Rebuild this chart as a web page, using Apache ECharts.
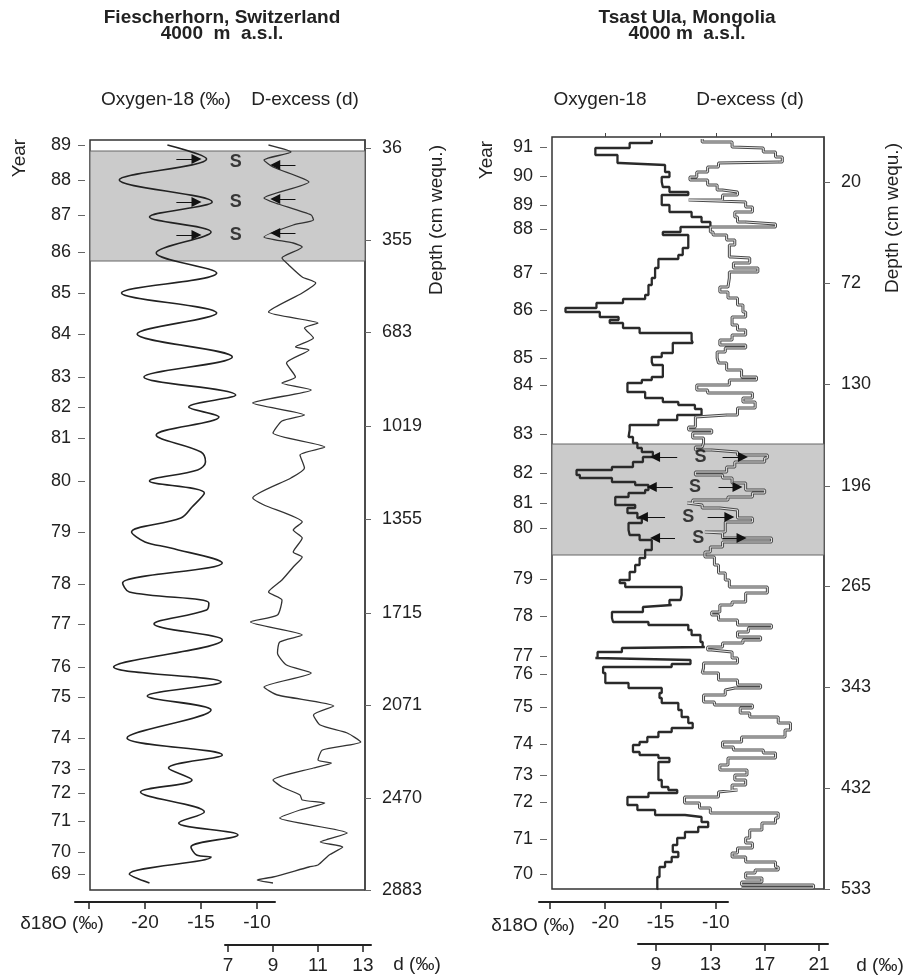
<!DOCTYPE html>
<html>
<head>
<meta charset="utf-8">
<script src="https://cdn.jsdelivr.net/npm/echarts@6/dist/echarts.min.js"></script>
<style>
  html, body { margin: 0; padding: 0; background: #fff; }
  #chart { width: 907px; height: 979px; }
</style>
</head>
<body>
<div id="chart"></div>
<script>
// vertical unit: relative position down the core (0 = top of the plot box)

// --- Fiescherhorn (left) ---
const leftYearLabels = ['89','88','87','86','85','84','83','82','81','80','79','78','77','76','75','74','73','72','71','70','69'];
const leftYearPos = [5,40,75,112,153,194,237,267,298,341,392,444,484,527,557,598,629,653,681,712,734];
const leftDepthLabels = ['36','355','683','1019','1355','1715','2071','2470','2883'];
const leftDepthPos = [8,100,192,286,379,473,565,658,750];
const leftSeason = [11, 121];

// [delta18O, position]
const leftO18 = [[-18.0,5],[-14.5,19],[-22.3,40],[-14.0,62],[-19.6,77],[-14.1,92],[-19.0,113],[-13.6,133],
  [-22.1,153],[-13.6,173],[-20.7,194],[-12.2,217],[-20.1,237],[-11.9,255],[-16.1,267],[-13.4,277],
  [-19.0,295],[-15.0,312],[-14.6,322],[-15.3,330],[-19.6,341],[-14.7,353],[-15.8,367],[-16.8,378],
  [-21.2,392],[-20.0,402],[-17.7,408],[-13.1,423],[-22.0,443],[-21.4,452],[-14.3,463],[-14.5,470],
  [-19.2,484],[-13.1,500],[-22.8,527],[-13.2,542],[-19.8,556],[-14.1,570],[-21.6,598],[-13.1,615],
  [-17.9,628],[-15.8,640],[-20.4,652],[-14.7,672],[-17.0,683],[-11.7,695],[-15.9,707],[-15.4,715],
  [-14.1,717],[-21.4,734],[-19.6,743]];

// [d-excess, position]
const leftDex = [[8.8,5],[9.8,12],[8.6,20],[9.0,27],[10.6,42],[8.6,58],[9.1,63],[10.7,75],[10.8,80],[9.9,85],
  [8.6,97],[9.9,103],[10.3,107],[10.1,110],[9.4,118],[9.7,125],[10.3,137],[10.9,143],[10.3,153],[8.8,172],
  [11.0,183],[10.4,188],[10.8,198],[10.0,207],[10.6,210],[9.6,223],[10.0,237],[9.4,243],[10.7,250],[8.1,263],
  [10.4,275],[9.4,281],[9.0,293],[11.3,307],[10.2,315],[10.4,328],[9.8,338],[8.1,358],[8.6,365],[10.3,382],
  [9.9,390],[10.3,398],[9.9,412],[10.3,417],[9.9,427],[9.4,440],[8.8,452],[9.4,460],[9.2,475],[8.0,482],
  [10.3,495],[9.3,502],[9.2,513],[9.6,525],[10.7,533],[8.6,547],[9.2,555],[11.7,566],[10.8,575],[11.1,585],
  [12.3,593],[12.9,602],[11.2,610],[11.0,620],[11.6,623],[10.8,628],[9.0,640],[9.4,647],[10.2,655],[10.3,660],
  [11.3,663],[10.2,670],[9.3,678],[12.3,693],[11.1,702],[12.1,707],[11.5,715],[11.0,725],[10.6,727],[9.0,737],
  [8.3,740],[9.0,743]];

const leftArrowPosO18 = [19, 62, 95];
const leftArrowPosDex = [25, 59, 93];
const leftSPos = [22, 62, 95];

// --- Tsast Ula (right) ---
const rightYearLabels = ['91','90','89','88','87','86','85','84','83','82','81','80','79','78','77','76','75','74','73','72','71','70'];
const rightYearPos = [10,39,68,92,136,173,221,248,297,336,366,391,442,479,519,537,570,607,638,665,702,737];
const rightDepthLabels = ['20','72','130','196','265','343','432','533'];
const rightDepthPos = [45,146,247,349,449,550,651,752];
const rightSeason = [307, 418];

const rightO18 = [[-15.8,3],[-17.8,6],[-20.9,11],[-18.9,18],[-18.7,26],[-14.6,28],[-14.2,35],[-14.9,40],[-14.8,45],
  [-14.2,50],[-12.5,55],[-14.9,58],[-14.2,68],[-12.2,75],[-11.3,80],[-10.5,85],[-13.2,90],[-14.8,95],[-12.5,98],
  [-13.0,111],[-13.4,118],[-15.2,122],[-15.5,131],[-15.8,141],[-16.1,148],[-16.4,158],[-18.4,162],[-20.8,166],
  [-23.6,171],[-20.5,175],[-18.8,180],[-19.6,183],[-18.4,186],[-16.9,191],[-12.2,196],[-12.1,203],[-13.9,206],
  [-14.9,216],[-15.8,220],[-15.7,225],[-14.8,228],[-15.8,240],[-16.7,243],[-18.0,246],[-16.4,255],[-14.8,261],
  [-13.4,265],[-11.9,268],[-11.3,272],[-13.5,278],[-15.2,283],[-17.8,288],[-17.9,293],[-17.5,300],[-17.1,306],
  [-16.7,311],[-15.7,315],[-16.6,320],[-17.5,325],[-19.4,330],[-22.6,333],[-22.3,338],[-19.4,341],[-17.3,345],
  [-16.1,348],[-16.4,353],[-17.9,356],[-19.1,360],[-17.3,368],[-18.0,371],[-17.1,376],[-16.7,381],[-17.9,386],
  [-17.8,393],[-16.9,398],[-15.8,403],[-16.4,413],[-16.9,421],[-17.3,428],[-17.8,435],[-18.7,443],[-18.2,446],
  [-13.1,450],[-13.2,458],[-14.2,463],[-14.0,468],[-16.6,470],[-19.4,475],[-19.3,481],[-16.1,485],[-12.5,488],
  [-12.2,493],[-11.4,498],[-11.2,505],[-11.0,510],[-18.5,511],[-20.7,515],[-20.9,521],[-12.3,523],[-14.0,527],
  [-20.2,530],[-20.0,536],[-17.9,546],[-14.9,551],[-15.1,556],[-14.9,561],[-13.4,566],[-13.1,573],[-12.5,580],
  [-12.1,586],[-14.0,591],[-15.2,595],[-16.2,600],[-16.9,605],[-17.5,608],[-16.9,615],[-15.2,618],[-14.2,621],
  [-15.2,625],[-14.9,643],[-14.3,650],[-13.5,653],[-16.1,656],[-18.0,660],[-17.1,668],[-15.5,673],[-12.8,678],
  [-11.3,680],[-10.7,685],[-11.6,690],[-12.8,695],[-13.5,701],[-13.9,708],[-13.4,715],[-14.0,720],[-14.6,725],
  [-15.1,730],[-15.3,740],[-15.2,752]];

const rightDex = [[12.4,2],[14.6,5],[14.7,10],[16.9,11],[17.8,15],[18.3,20],[18.0,25],[13.6,26],[12.8,30],[12.0,35],
  [11.5,40],[12.8,43],[13.5,48],[13.9,53],[15.0,55],[13.9,58],[11.4,63],[15.6,65],[16.1,70],[14.8,75],[15.0,80],
  [15.6,85],[17.8,87],[13.0,90],[13.2,95],[14.2,98],[14.8,103],[14.4,108],[14.6,120],[15.9,121],[14.7,126],
  [16.5,131],[14.4,135],[14.3,141],[13.7,150],[14.3,155],[15.0,161],[15.4,168],[15.6,175],[14.6,180],[15.0,188],
  [15.6,193],[14.6,198],[13.7,203],[15.6,208],[14.1,211],[13.5,215],[13.6,221],[14.2,226],[15.3,233],[16.4,240],
  [14.4,243],[12.0,248],[12.8,253],[16.1,256],[15.4,261],[16.3,265],[15.0,271],[14.2,278],[11.9,280],[11.4,290],
  [13.1,293],[11.7,296],[12.5,301],[12.4,306],[11.9,310],[13.1,313],[15.0,315],[17.2,318],[17.0,321],[14.8,325],
  [14.2,330],[11.9,335],[13.9,338],[14.6,341],[15.6,346],[17.0,353],[16.1,356],[14.3,360],[11.7,363],[11.3,366],
  [12.4,368],[13.7,371],[15.0,373],[16.1,381],[14.1,385],[12.6,395],[13.9,396],[17.5,401],[13.9,405],[13.0,410],
  [12.6,415],[13.3,420],[13.6,428],[14.1,436],[14.4,443],[17.2,450],[15.6,456],[14.6,465],[13.7,468],[13.1,475],
  [13.6,478],[15.0,483],[17.5,488],[15.8,491],[15.0,495],[16.7,500],[15.4,503],[13.9,506],[12.8,510],[13.1,513],
  [14.6,515],[15.0,521],[12.5,526],[12.4,531],[13.6,536],[15.0,543],[16.7,548],[14.8,551],[14.1,553],[12.5,558],
  [13.3,565],[16.1,568],[15.2,571],[15.9,576],[18.0,580],[18.9,586],[18.5,593],[15.3,600],[13.9,605],[14.7,610],
  [16.9,613],[17.8,616],[14.3,621],[13.7,628],[15.7,633],[14.8,638],[15.6,643],[14.6,648],[15.0,653],[13.6,655],
  [11.1,660],[12.2,666],[13.0,671],[18.0,676],[17.8,681],[16.8,686],[15.9,693],[15.6,701],[16.1,706],[15.0,711],
  [14.6,716],[15.6,720],[17.8,725],[18.0,730],[16.3,733],[15.6,736],[16.8,741],[15.3,745],[20.6,748],[15.3,751]];

const rightArrowPos = [320, 350, 380, 401];
const rightO18ArrowFrom = [-13.5, -13.9, -14.6, -13.7];
const rightO18ArrowTo = [-15.5, -15.8, -16.6, -15.5];
const rightDexArrowFrom = [13.9, 13.6, 12.8, 13.9];
const rightDexArrowTo = [15.4, 15.0, 14.4, 15.3];
const rightSX = [-11.4, -11.9, -12.5, -11.6];

// bottom scales
const o18Ticks = [-25, -20, -15, -10];
const o18Labels = [-20, -15, -10];
const leftDTicks = [7, 9, 11, 13];
const rightDTicks = [9, 13, 17, 21];
const topTicks = [-20, -15, -10, -5];

const FONT = "'Liberation Sans', Arial, Helvetica, sans-serif";
const INK = '#222';

function lookup(pos, labels) {
  return v => { const i = pos.indexOf(v); return i < 0 ? '' : labels[i]; };
}

function yearAxis(grid, max, pos, labels) {
  return {
    type: 'value', gridIndex: grid, min: 0, max: max, inverse: true, position: 'left', offset: 5,
    axisLine: { show: false }, splitLine: { show: false },
    axisTick: { show: true, length: 7, customValues: pos, lineStyle: { color: '#666', width: 1 } },
    axisLabel: { customValues: pos, margin: 14, fontSize: 18, color: INK, fontFamily: FONT,
      hideOverlap: false, formatter: lookup(pos, labels) }
  };
}

function depthAxis(grid, max, pos, labels) {
  return {
    type: 'value', gridIndex: grid, min: 0, max: max, inverse: true, position: 'right',
    axisLine: { show: true, lineStyle: { color: '#444', width: 1.5 } }, splitLine: { show: false },
    axisTick: { show: true, length: 6, customValues: pos, lineStyle: { color: '#666', width: 1 } },
    axisLabel: { customValues: pos, margin: 17, fontSize: 18, color: INK, fontFamily: FONT, align: 'left',
      hideOverlap: false, formatter: lookup(pos, labels) }
  };
}

function hiddenX(grid, min, max) {
  return { type: 'value', gridIndex: grid, min: min, max: max, show: false, splitLine: { show: false } };
}

function scaleAxis(grid, min, max, ticks, labels) {
  return {
    type: 'value', gridIndex: grid, min: min, max: max, position: 'bottom',
    axisLine: { show: true, lineStyle: { color: INK, width: 2 } }, splitLine: { show: false },
    axisTick: { show: true, length: 7, customValues: ticks, lineStyle: { color: INK, width: 1.5 } },
    axisLabel: { customValues: labels, margin: 11, fontSize: 19, color: INK, fontFamily: FONT, hideOverlap: false }
  };
}

function text(str, x, y, size, weight, rotation) {
  return {
    type: 'text', x: x, y: y, rotation: rotation || 0, silent: true,
    style: { text: str, fontFamily: FONT, fontSize: size, fontWeight: weight || 'normal', fill: INK,
      align: 'center', verticalAlign: 'middle' }
  };
}

function arrows(pos, from, to) {
  return pos.map((p, i) => [
    { coord: [Array.isArray(from) ? from[i] : from, p] },
    { coord: [Array.isArray(to) ? to[i] : to, p] }
  ]);
}

const arrowStyle = {
  symbol: ['none', 'triangle'], symbolSize: 10, silent: true, animation: false,
  label: { show: false }, lineStyle: { color: '#111', width: 1, type: 'solid' }
};

function band(range) {
  return {
    silent: true,
    itemStyle: { color: '#cbcbcb', borderColor: '#666', borderWidth: 1 },
    data: [[{ yAxis: range[0] }, { yAxis: range[1] }]]
  };
}

function sLabels(xs, ys, xAxisIndex, yAxisIndex) {
  return {
    type: 'scatter', xAxisIndex: xAxisIndex, yAxisIndex: yAxisIndex, symbolSize: 1, z: 6,
    itemStyle: { color: 'rgba(0,0,0,0)' }, silent: true,
    data: ys.map((y, i) => [Array.isArray(xs) ? xs[i] : xs, y]),
    label: { show: true, position: 'inside', formatter: 'S', fontSize: 18, fontWeight: 'bold',
      color: '#111', fontFamily: FONT }
  };
}

const chart = echarts.init(document.getElementById('chart'), null, { renderer: 'canvas' });

const gridBox = { show: true, borderColor: '#333', borderWidth: 1.5, backgroundColor: 'transparent',
  outerBoundsMode: 'none', containLabel: false };

chart.setOption({
  animation: false,
  backgroundColor: '#fff',
  grid: [
    Object.assign({ left: 90, top: 140, width: 275, height: 750 }, gridBox),
    Object.assign({ left: 552, top: 137, width: 272, height: 752 }, gridBox),
    { left: 75, top: 901, width: 200, height: 1, outerBoundsMode: 'none' },
    { left: 225, top: 944, width: 146, height: 1, outerBoundsMode: 'none' },
    { left: 539, top: 901, width: 189, height: 1, outerBoundsMode: 'none' },
    { left: 638, top: 943, width: 190, height: 1, outerBoundsMode: 'none' }
  ],
  xAxis: [
    hiddenX(0, -24.91, -0.36),
    hiddenX(0, 0.867, 13.09),
    {
      type: 'value', gridIndex: 1, min: -24.82, max: -0.23, position: 'top',
      axisLine: { show: false }, splitLine: { show: false }, axisLabel: { show: false },
      axisTick: { show: true, length: 4, customValues: topTicks, lineStyle: { color: '#444' } }
    },
    hiddenX(1, 1.34, 21.37),
    scaleAxis(2, -26.25, -8.39, o18Ticks, o18Labels),
    scaleAxis(3, 6.87, 13.36, leftDTicks, leftDTicks),
    scaleAxis(4, -25.99, -8.90, o18Ticks, o18Labels),
    scaleAxis(5, 7.67, 21.66, rightDTicks, rightDTicks)
  ],
  yAxis: [
    yearAxis(0, 750, leftYearPos, leftYearLabels),
    depthAxis(0, 750, leftDepthPos, leftDepthLabels),
    yearAxis(1, 752, rightYearPos, rightYearLabels),
    depthAxis(1, 752, rightDepthPos, rightDepthLabels),
    { type: 'value', gridIndex: 2, show: false, min: 0, max: 1 },
    { type: 'value', gridIndex: 3, show: false, min: 0, max: 1 },
    { type: 'value', gridIndex: 4, show: false, min: 0, max: 1 },
    { type: 'value', gridIndex: 5, show: false, min: 0, max: 1 }
  ],
  series: [
    {
      type: 'line', name: 'Fiescherhorn O-18', xAxisIndex: 0, yAxisIndex: 0, data: leftO18,
      smooth: 0.35, symbol: 'none', z: 3, lineStyle: { color: INK, width: 1.6 },
      markArea: band(leftSeason),
      markLine: Object.assign({ data: arrows(leftArrowPosO18, -17.2, -15.4) }, arrowStyle)
    },
    {
      type: 'line', name: 'Fiescherhorn d', xAxisIndex: 1, yAxisIndex: 0, data: leftDex,
      smooth: 0.2, symbol: 'none', z: 3, lineStyle: { color: '#333', width: 1.3 },
      markLine: Object.assign({ data: arrows(leftArrowPosDex, 10.0, 9.1) }, arrowStyle)
    },
    sLabels(-11.9, leftSPos, 0, 0),
    {
      type: 'line', name: 'Tsast Ula O-18', xAxisIndex: 2, yAxisIndex: 2, data: rightO18,
      step: 'start', symbol: 'none', z: 3, lineStyle: { color: '#2a2a2a', width: 2.3 },
      markArea: band(rightSeason),
      markLine: Object.assign({ data: arrows(rightArrowPos, rightO18ArrowFrom, rightO18ArrowTo) }, arrowStyle)
    },
    {
      type: 'line', name: 'Tsast Ula d', xAxisIndex: 3, yAxisIndex: 2, data: rightDex,
      step: 'start', symbol: 'none', z: 3, lineStyle: { color: '#4a4a4a', width: 3 },
      markLine: Object.assign({ data: arrows(rightArrowPos, rightDexArrowFrom, rightDexArrowTo) }, arrowStyle)
    },
    {
      type: 'line', name: 'Tsast Ula d inner', xAxisIndex: 3, yAxisIndex: 2, data: rightDex,
      step: 'start', symbol: 'none', z: 4, silent: true, lineStyle: { color: '#e4e4e4', width: 1 }
    },
    sLabels(rightSX, rightArrowPos, 2, 2)
  ],
  graphic: [
    text('Fiescherhorn, Switzerland', 222, 18, 19, 'bold'),
    text('4000  m  a.s.l.', 222, 34, 19, 'bold'),
    text('Tsast Ula, Mongolia', 687, 18, 19, 'bold'),
    text('4000 m  a.s.l.', 687, 34, 19, 'bold'),
    text('Oxygen-18 (‰)', 166, 100, 19),
    text('D-excess (d)', 305, 100, 19),
    text('Oxygen-18', 600, 100, 19),
    text('D-excess (d)', 750, 100, 19),
    text('Year', 20, 158, 19, 'normal', Math.PI / 2),
    text('Year', 487, 160, 19, 'normal', Math.PI / 2),
    text('Depth (cm wequ.)', 437, 220, 19, 'normal', Math.PI / 2),
    text('Depth (cm wequ.)', 893, 218, 19, 'normal', Math.PI / 2),
    text('δ18O (‰)', 62, 924, 19),
    text('δ18O (‰)', 533, 926, 19),
    text('d (‰)', 417, 965, 19),
    text('d (‰)', 880, 966, 19)
  ]
});
</script>
</body>
</html>
